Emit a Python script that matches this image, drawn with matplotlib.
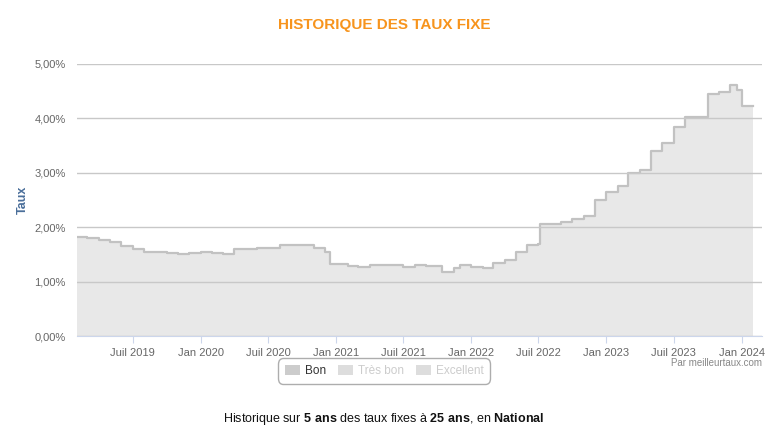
import matplotlib
matplotlib.use("Agg")
import matplotlib.pyplot as plt
import numpy as np
from matplotlib.patches import Patch

dates = ["2019-02-01","2019-03-01","2019-04-01","2019-05-01","2019-06-01","2019-07-01","2019-08-01","2019-09-01","2019-10-01","2019-11-01","2019-12-01",
         "2020-01-01","2020-02-01","2020-03-01","2020-04-01","2020-05-01","2020-06-01","2020-07-01","2020-08-01","2020-09-01","2020-10-01","2020-11-01","2020-12-01","2020-12-15",
         "2021-01-01","2021-02-01","2021-03-01","2021-04-01","2021-05-01","2021-06-01","2021-07-01","2021-08-01","2021-09-01","2021-10-01","2021-10-15","2021-11-15","2021-12-01",
         "2022-01-01","2022-02-01","2022-03-01","2022-04-01","2022-05-01","2022-06-01","2022-07-01","2022-07-05","2022-08-01","2022-09-01","2022-10-01","2022-11-01","2022-12-01",
         "2023-01-01","2023-02-01","2023-03-01","2023-04-01","2023-05-01","2023-06-01","2023-07-01","2023-08-01","2023-09-01","2023-10-01","2023-11-01","2023-12-01","2023-12-20",
         "2024-01-01","2024-02-01"]
rates = [1.82,1.80,1.76,1.72,1.65,1.60,1.55,1.55,1.52,1.50,1.53,
         1.55,1.52,1.50,1.60,1.60,1.62,1.62,1.67,1.67,1.67,1.62,1.55,1.32,
         1.33,1.28,1.27,1.30,1.30,1.30,1.27,1.30,1.29,1.28,1.18,1.25,1.30,
         1.27,1.25,1.35,1.40,1.55,1.68,1.70,2.05,2.05,2.10,2.15,2.20,2.50,
         2.65,2.75,3.00,3.05,3.40,3.55,3.85,4.02,4.03,4.45,4.48,4.62,4.52,
         4.22,4.22]
tick_dates = ["2019-07-01","2020-01-01","2020-07-01","2021-01-01","2021-07-01","2022-01-01","2022-07-01","2023-01-01","2023-07-01","2024-01-01"]
tick_labels = ["Juil 2019","Jan 2020","Juil 2020","Jan 2021","Juil 2021","Jan 2022","Juil 2022","Jan 2023","Juil 2023","Jan 2024"]
yticks = [0,1,2,3,4,5]

d = np.array(dates, dtype="datetime64[D]")
plt.rcParams['font.family'] = ['Liberation Sans', 'DejaVu Sans']
plt.rcParams['mathtext.fontset'] = 'custom'
plt.rcParams['mathtext.rm'] = 'Liberation Sans'
plt.rcParams['mathtext.bf'] = 'Liberation Sans:bold'
fig = plt.figure(figsize=(7.68,4.42), dpi=100)
ax = fig.add_axes([77/768, 106/442, 685/768, 272/442])
ax.fill_between(d, rates, step="post", color="#e8e8e8", lw=0)
ax.step(d, rates, where="post", color="#c2c2c2", lw=1.6)
ax.set_xlim(np.datetime64("2019-02-01"), np.datetime64("2024-02-25"))
ax.set_ylim(0, 5)
ax.set_yticks(yticks)
ax.set_yticklabels([f"{v},00%" for v in yticks], fontsize=8, color="#666666")
ax.set_xticks(np.array(tick_dates, dtype="datetime64[D]"))
ax.set_xticklabels(tick_labels, fontsize=8, color="#666666")
ax.grid(axis="y", color="#c8c8c8", lw=1)
ax.set_axisbelow(False)
for s in ["top","right","left"]:
    ax.spines[s].set_visible(False)
ax.spines["bottom"].set_color("#ccd6eb")
ax.tick_params(axis="y", length=0, pad=8)
ax.tick_params(axis="x", length=5, color="#ccd6eb")
ax.set_ylabel("Taux", fontsize=9, color="#4a6e9a", fontweight="bold", labelpad=4)
fig.text(0.5, 0.935, "HISTORIQUE DES TAUX FIXE", ha="center", color="#f7941d", fontsize=11, fontweight="bold")
fig.text(762/768, 1-366/442, "Par meilleurtaux.com", ha="right", fontsize=7, color="#888888")
handles = [Patch(facecolor="#cccccc", edgecolor="none"), Patch(facecolor="#dddddd", edgecolor="none"), Patch(facecolor="#dddddd", edgecolor="none")]
leg = fig.legend(handles, ["Bon","Très bon","Excellent"], loc="center", bbox_to_anchor=(384/768, 1-371/442), ncol=3,
                 fontsize=8.5, frameon=True, edgecolor="#999999", handlelength=1.3, handleheight=0.9, columnspacing=1.0, handletextpad=0.4, borderpad=0.4)
leg.get_frame().set_boxstyle("round,pad=0.2,rounding_size=0.5")
cols = ["#333333","#cccccc","#cccccc"]
for t, c in zip(leg.get_texts(), cols):
    t.set_color(c)
fig.text(0.5, 1-422/442, "Historique sur $\\bf{5\\ ans}$ des taux fixes à $\\bf{25\\ ans}$, en $\\bf{National}$", ha="center", fontsize=9, color="#111111")
fig.savefig("out.png", dpi=100)
